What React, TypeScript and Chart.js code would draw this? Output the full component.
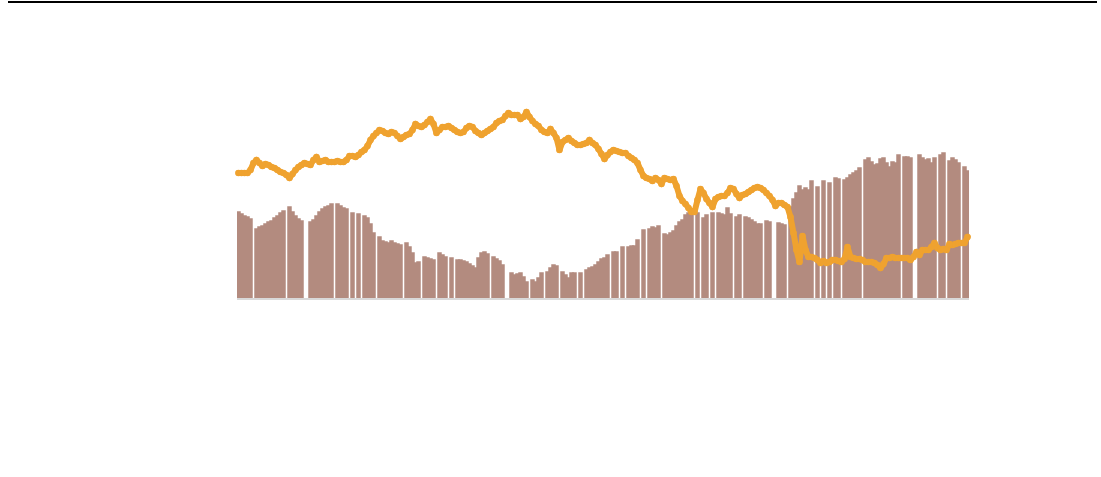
import React, { useEffect, useRef } from "react";
import { Chart, registerables } from "chart.js";

Chart.register(...registerables);

// Bar series (height units above baseline); null = missing day
const barValues: (number | null)[] = [
  86, 84, 82, 81, 79, null, 69, 71, 72, 74,
  76, 77, 80, 82, 85, 87, null, 91, 86, 82,
  79, 77, null, null, 76, 78, 82, 86, 89, 91,
  92, 94, null, 94, 92,
  90, 89, null, 85, null, 84, null, 82, 80, 74,
  65, null, 61, 57, 56, 55, 57, 55, 54, 53,
  null, 55, 51, 45, 35, 36, null, 41, 40, 39,
  38, null, 45, 43,
  41, null, 40, null, 38, 38, 37, 36, 34, 32,
  30, 40, 45, 46, 44, null, 41, 39, 37, 33,
  null, null, 25, 23, 24, 25, 21, 16, null, 18,
  16, 20, 25, null, 26,
  30, 33, 32, null, 26, 23, 20, 25, 25, null,
  25, null, 28, 30, 31, 33, 36, 39, 40, 43,
  null, 46, 46, null, 51, null, 51, 52, 52, 58,
  null, 68, null, 69, 71,
  70, 72, null, 64, 63, 65, 67, 72, 76, 78,
  83, 85, 83, null, 85, null, 80, 83, null, 85,
  null, 85, 84, 83, 90, 84, null, 81, 83, null,
  81, 80, 78, 76, 74,
  74, null, 77, 76, null, null, 75, 74, 73, null,
  91, 99, 105, 112, 108, 110, 108, 117, null, 111,
  null, 117, null, 115, null, 120, 119, null, 118, 120,
  123, 125, 127, 130,
  null, 138, 140, 136, 133, 134, 139, 140, 135, 131,
  136, 135, 143, null, 141, 141, 140, null, null, 143,
  140, 138, 139, 135, 140, null, 143, 145, null, 137,
  140, 138, 135, null, 131, 127,
];

// Line series (same units)
const lineValues: number[] = [
  125, 125, 125, 125, 128, 135, 138, 135, 132, 134,
  133, 131, 130, 128, 126, 125, 123, 120, 124, 128,
  131, 133, 135, 134, 133, 138, 141, 136, 137, 138,
  136, 136, 136, 137, 136,
  136, 138, 142, 142, 141, 143, 146, 148, 152, 158,
  162, 165, 168, 167, 165, 164, 166, 165, 162, 159,
  161, 163, 164, 168, 174, 172, 171, 173, 176, 179,
  174, 165, 168, 171,
  171, 172, 170, 168, 166, 165, 166, 170, 172, 171,
  167, 165, 163, 165, 167, 169, 171, 175, 177, 178,
  182, 185, 183, 183, 183, 179, 181, 186, 181, 177,
  174, 172, 168, 166, 165,
  169, 165, 160, 148, 156, 158, 160, 157, 155, 153,
  153, 154, 155, 158, 155, 153, 149, 144, 139, 143,
  146, 148, 147, 146, 145, 145, 142, 140, 138, 135,
  128, 122, 120, 119, 117,
  120, 118, 114, 120, 119, 118, 119, 112, 102, 97,
  94, 90, 86, 86, 98, 109, 105, 99, 95, 91,
  99, 101, 102, 102, 105, 110, 109, 104, 100, 103,
  104, 106, 108, 110, 111,
  110, 108, 105, 102, 98, 92, 95, 95, 93, 91,
  81, 65, 48, 36, 62, 48, 41, 41, 40, 38,
  35, 37, 35, 36, 38, 38, 37, 36, 39, 51,
  41, 40, 39, 39,
  38, 36, 36, 36, 35, 33, 30, 34, 40, 40,
  41, 40, 40, 40, 40, 40, 38, 41, 46, 43,
  48, 48, 48, 51, 55, 50, 48, 49, 48, 54,
  53, 54, 55, 55, 55, 61,
];

const categories: string[] = barValues.map((_, i) => `D${i + 1}`);

const BAR_COLOR = "#b38b7f";
const LINE_COLOR = "#efa22f";

const decorPlugin = {
  id: "decor",
  beforeDatasetsDraw(chart: any) {
    const { ctx, chartArea } = chart;
    ctx.save();
    ctx.fillStyle = "#d9d9d9";
    ctx.fillRect(chartArea.left, chartArea.bottom, chartArea.right - chartArea.left, 2);
    ctx.restore();
  },
  afterDraw(chart: any) {
    const { ctx } = chart;
    ctx.save();
    ctx.fillStyle = "#000000";
    ctx.fillRect(8, 1, 1089, 2);
    ctx.restore();
  },
};

export default function App() {
  const ref = useRef<HTMLCanvasElement | null>(null);
  useEffect(() => {
    if (!ref.current) return;
    const chart = new Chart(ref.current, {
      type: "bar",
      data: {
        labels: categories,
        datasets: [
          {
            type: "line",
            data: lineValues,
            borderColor: LINE_COLOR,
            backgroundColor: LINE_COLOR,
            borderWidth: 6,
            borderJoinStyle: "round",
            borderCapStyle: "round",
            pointRadius: 3.3,
            pointBorderWidth: 0,
            pointBackgroundColor: LINE_COLOR,
            tension: 0,
            order: 0,
          } as any,
          {
            type: "bar",
            data: barValues,
            backgroundColor: BAR_COLOR,
            borderWidth: 0,
            barPercentage: 1,
            categoryPercentage: 1,
            inflateAmount: 0.75,
            order: 1,
          } as any,
        ],
      },
      options: {
        animation: false,
        responsive: true,
        maintainAspectRatio: false,
        layout: { padding: { left: 237, right: 132, top: 98, bottom: 179 } },
        plugins: { legend: { display: false }, tooltip: { enabled: false }, title: { display: false } },
        scales: {
          x: { display: false },
          y: { display: false, min: 0, max: 200 },
        },
      },
      plugins: [decorPlugin],
    });
    return () => chart.destroy();
  }, []);
  return (
    <div style={{ position: "absolute", left: 0, top: 0, width: 1101, height: 477 }}>
      <canvas ref={ref} />
    </div>
  );
}
